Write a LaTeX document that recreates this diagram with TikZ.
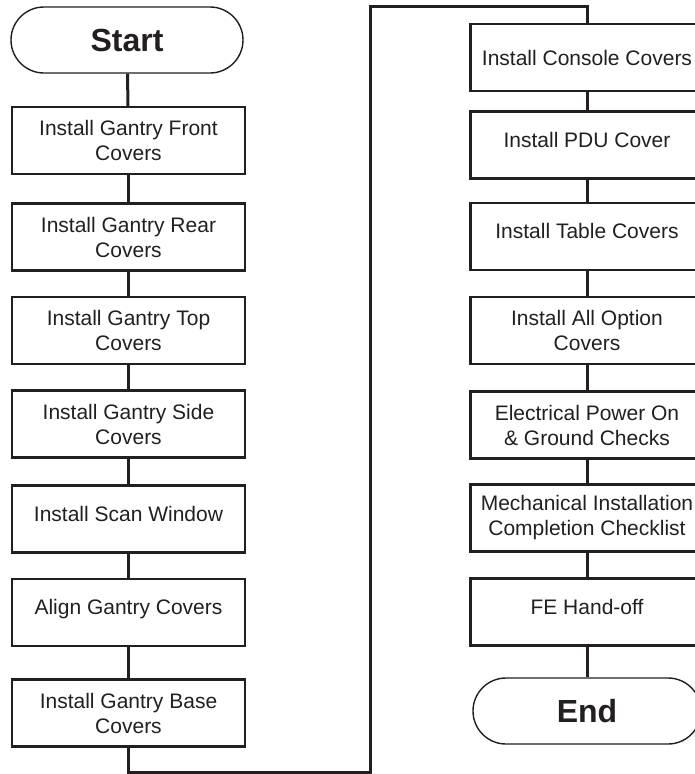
\documentclass[tikz,border=0pt]{standalone}
\usepackage{fontspec}
\setmainfont{Liberation Sans}
\usepackage{xcolor}
\usepackage{tikz}
\usetikzlibrary{positioning}
\definecolor{inkgray}{HTML}{231F20}

\begin{document}
\begin{tikzpicture}[x=1pt, y=-1pt,
    stepbox/.style={draw=inkgray, line width=2.2pt, minimum width=233pt,
        minimum height=67pt, inner sep=0pt, align=center, text=inkgray,
        font=\fontsize{21}{25}\selectfont},
    oneline/.style={text height=15pt, text depth=11pt},
    termbox/.style={draw=inkgray, line width=1.4pt, rounded corners=33pt,
        minimum width=232pt, minimum height=66pt, text=inkgray,
        font=\fontsize{32}{36}\selectfont\bfseries},
    link/.style={draw=inkgray, line width=3pt}]
    \clip (0,0) rectangle (695,774);

    % left column
    \node[termbox] (start) at (127, 40) {Start};
    \node[stepbox] (front) at (128.5, 140.5) {Install Gantry Front\\Covers};
    \node[stepbox] (rear) at (128.5, 237) {Install Gantry Rear\\Covers};
    \node[stepbox] (top) at (128.5, 330.5) {Install Gantry Top\\Covers};
    \node[stepbox] (side) at (128.5, 424) {Install Gantry Side\\Covers};
    \node[stepbox, oneline] (scan) at (128.5, 519) {Install Scan Window};
    \node[stepbox, oneline] (align) at (128.5, 612.5) {Align Gantry Covers};
    \node[stepbox] (base) at (128.5, 713) {Install Gantry Base\\Covers};

    % right column
    \node[stepbox] (console) at (587, 57.5) {Install Console Covers};
    \node[stepbox, oneline] (pdu) at (587, 145) {Install PDU Cover};
    \node[stepbox, oneline] (table) at (587, 236.5) {Install Table Covers};
    \node[stepbox] (option) at (587, 330.5) {Install All Option\\Covers};
    \node[stepbox] (power) at (587, 425) {Electrical Power On\\\& Ground Checks};
    \node[stepbox] (checklist) at (587, 518) {Mechanical Installation\\Completion Checklist};
    \node[stepbox, oneline] (handoff) at (587, 612) {FE Hand-off};
    \node[termbox, minimum width=228pt] (end) at (587, 711) {End};

    \coordinate (turnlow) at (370, 772);
    \coordinate (turnhigh) at (370, 6);

    \draw[link] (start) -- (front);
    \draw[link] (front) -- (rear);
    \draw[link] (rear) -- (top);
    \draw[link] (top) -- (side);
    \draw[link] (side) -- (scan);
    \draw[link] (scan) -- (align);
    \draw[link] (align) -- (base);
    \draw[link] (base.south) |- (turnlow) -- (turnhigh) -| (console.north);
    \draw[link] (console) -- (pdu);
    \draw[link] (pdu) -- (table);
    \draw[link] (table) -- (option);
    \draw[link] (option) -- (power);
    \draw[link] (power) -- (checklist);
    \draw[link] (checklist) -- (handoff);
    \draw[link] (handoff) -- (end);
\end{tikzpicture}
\end{document}
